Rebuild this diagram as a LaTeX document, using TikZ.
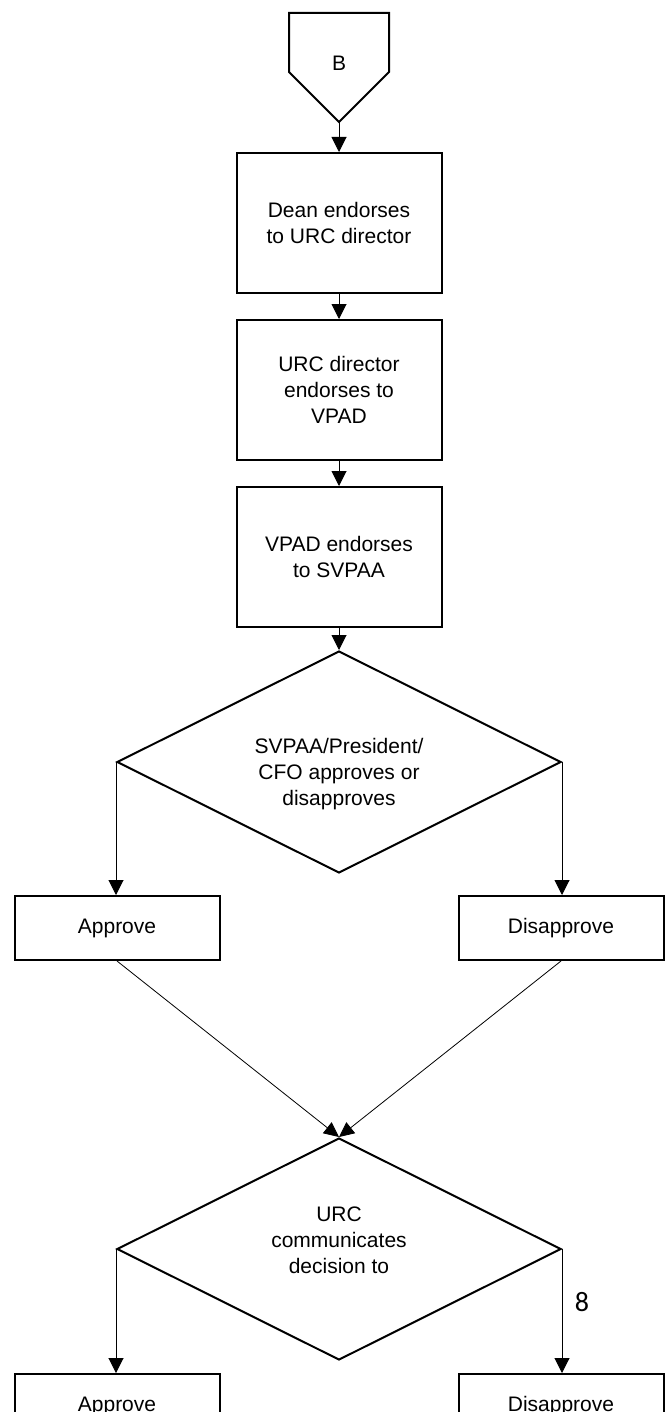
\documentclass[tikz,border=0pt]{standalone}
\usepackage{fontspec}
\setmainfont{Liberation Sans}
\newfontfamily\pagefont{Carlito}
\usetikzlibrary{shapes.geometric,arrows.meta,positioning}

\begin{document}
\begin{tikzpicture}[x=0.5pt,y=-0.5pt]
          %% FLOWCHART

          \tikzstyle{every node}=[font=\fontsize{10.5}{13}\selectfont]
          \tikzstyle{flow}=[-{Triangle[length=7.5pt,width=7.5pt]},line width=0.5pt]
          \tikzstyle{thinflow}=[-{Triangle[length=7.5pt,width=7pt]},line width=0.4pt]
          \tikzstyle{stepbox}=[draw,line width=1pt,minimum width=102.5pt,minimum height=70pt,align=center,inner sep=0pt]
          \tikzstyle{choice}=[draw,line width=1pt,minimum width=102.5pt,minimum height=32pt,inner sep=0pt]
          \tikzstyle{decision}=[draw,shape=diamond,line width=1pt,minimum width=222pt,minimum height=111pt,inner sep=0pt]

          \clip (0,0) rectangle (672,1412);

          % connecteur B
          \draw[line width=1pt,line join=miter] (289,13) -- (389,13) -- (389,72) -- (339,122) -- (289,72) -- cycle;
          \node (B) at (339,63) {B};
          \coordinate (Bpt) at (339,122);

          % etapes d'endossement
          \node[stepbox] (S1) at (339,223) {Dean endorses\\to URC director};
          \node[stepbox] (S2) at (339,390) {URC director\\endorses to\\VPAD};
          \node[stepbox] (S3) at (339,557) {VPAD endorses\\to SVPAA};

          % premiere decision
          \node[decision] (D1) at (339,762) {};
          \node[align=center] (D1txt) at (339,774) {SVPAA/President/\\CFO approves or\\disapproves};

          \node[choice] (A1) at (117,928) {Approve};
          \node[choice] (R1) at (561,928) {Disapprove};

          % deuxieme decision
          \node[decision] (D2) at (339,1249) {};
          \node[align=center] (D2txt) at (339,1240) {URC\\communicates\\decision to};

          \node[choice] (A2) at (117,1406) {Approve};
          \node[choice] (R2) at (561,1406) {Disapprove};

          \node[font=\pagefont\fontsize{14}{16}\selectfont] (pg) at (582,1302) {8};

          % fleches
          \draw[flow] (Bpt) -- (S1);
          \draw[flow] (S1) -- (S2);
          \draw[flow] (S2) -- (S3);
          \draw[flow] (S3) -- (D1);
          \draw[flow] (D1.west) -- (D1.west |- A1.north);
          \draw[flow] (D1.east) -- (D1.east |- R1.north);
          \draw[thinflow] (A1.south) -- (D2.north);
          \draw[thinflow] (R1.south) -- (D2.north);
          \draw[flow] (D2.west) -- (D2.west |- A2.north);
          \draw[flow] (D2.east) -- (D2.east |- R2.north);

        \end{tikzpicture}
\end{document}
